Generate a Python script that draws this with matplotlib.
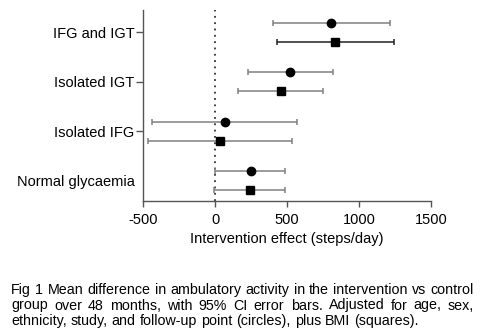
import numpy as np
import matplotlib
matplotlib.use("Agg")
import matplotlib.pyplot as plt

plt.rcParams['font.family'] = ['Liberation Sans', 'DejaVu Sans']

# groups, top to bottom
groups = ["IFG and IGT", "Isolated IGT", "Isolated IFG", "Normal glycaemia"]
show_tick = [True, True, True, False]

# adjusted for age, sex, ethnicity, study, follow-up point (circles)
circ_mean = [805, 521, 69, 248]
circ_lo = [400, 227, -435, 0]
circ_hi = [1213, 817, 567, 488]

# additionally adjusted for BMI (squares)
sq_mean = [836, 458, 35, 241]
sq_lo = [428, 162, -467, -5]
sq_hi = [1243, 748, 537, 486]
sq_bar_colors = ["#222222", "#808080", "#808080", "#808080"]

xticks = [-500, 0, 500, 1000, 1500]

caption_lines = [
    "Fig 1 Mean difference in ambulatory activity in the intervention vs control",
    "group over 48 months, with 95% CI error bars. Adjusted for age, sex,",
    "ethnicity, study, and follow-up point (circles), plus BMI (squares).",
]

fig = plt.figure(figsize=(4.89, 3.35), dpi=100)
ax = fig.add_axes([143 / 489, 1 - 201 / 335, 288 / 489, 191 / 335])

ypos = np.arange(len(groups))[::-1].astype(float)
off = 0.19
grey = "#808080"

for i in range(len(groups)):
    y = ypos[i]
    ax.errorbar(circ_mean[i], y + off,
                xerr=[[circ_mean[i] - circ_lo[i]], [circ_hi[i] - circ_mean[i]]],
                fmt="o", color="black", ms=6, ecolor=grey, elinewidth=1.1,
                capsize=2.5, capthick=1.1, zorder=3)
    ax.errorbar(sq_mean[i], y - off,
                xerr=[[sq_mean[i] - sq_lo[i]], [sq_hi[i] - sq_mean[i]]],
                fmt="s", color="black", ms=6.3, ecolor=sq_bar_colors[i],
                elinewidth=1.1, capsize=2.5, capthick=1.1, zorder=3)

ax.axvline(0, color="#333333", ls=(0, (1, 2.5)), lw=1.3, zorder=1)

ax.set_xlim(-500, 1500)
ax.set_ylim(-0.41, 3.45)
ax.set_xticks(xticks)
ax.set_xticklabels([str(t) for t in xticks], fontsize=10.5)
ax.set_yticks(ypos)
ax.set_yticklabels(groups, fontsize=10.5)
for tk, show in zip(ax.yaxis.get_major_ticks(), show_tick):
    if not show:
        tk.tick1line.set_visible(False)
ax.tick_params(axis="both", width=1, color="#555555")
ax.tick_params(axis="x", length=4.5, pad=4)
ax.tick_params(axis="y", length=5, pad=1)
ax.set_xlabel("Intervention effect (steps/day)", fontsize=10.5, labelpad=4)
for s in ["top", "right"]:
    ax.spines[s].set_visible(False)
for s in ["left", "bottom"]:
    ax.spines[s].set_color("#555555")
    ax.spines[s].set_linewidth(1)

# justified caption below the plot
renderer = fig.canvas.get_renderer()
x0, x1 = 11 / 489, 474 / 489
base_y = [1 - 294 / 335, 1 - 309.5 / 335, 1 - 325 / 335]
for j, line in enumerate(caption_lines):
    words = line.split(" ")
    texts = [fig.text(0, base_y[j], w, fontsize=10.3, va="baseline", ha="left")
             for w in words]
    widths = [t.get_window_extent(renderer).width / fig.bbox.width for t in texts]
    if j < len(caption_lines) - 1:
        gap = (x1 - x0 - sum(widths)) / (len(words) - 1)
    else:
        gap = texts[0].get_fontsize() * 0.278 / 72 * fig.dpi / fig.bbox.width
    x = x0
    for t, w in zip(texts, widths):
        t.set_x(x)
        x += w + gap

fig.savefig("out.png", dpi=100)
